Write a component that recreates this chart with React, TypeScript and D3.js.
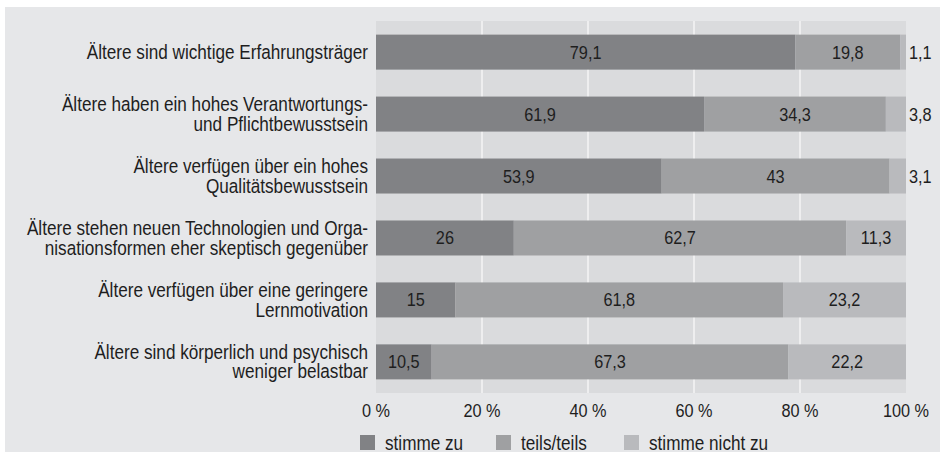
import React from 'react';
import { scaleLinear, scaleBand } from 'd3';

const categories = [
  ['Ältere sind wichtige Erfahrungsträger'],
  ['Ältere haben ein hohes Verantwortungs-', 'und Pflichtbewusstsein'],
  ['Ältere verfügen über ein hohes', 'Qualitätsbewusstsein'],
  ['Ältere stehen neuen Technologien und Orga-', 'nisationsformen eher skeptisch gegenüber'],
  ['Ältere verfügen über eine geringere', 'Lernmotivation'],
  ['Ältere sind körperlich und psychisch', 'weniger belastbar'],
];
const zustimmung = [79.1, 61.9, 53.9, 26, 15, 10.5];
const teilsTeils = [19.8, 34.3, 43, 62.7, 61.8, 67.3];
const ablehnung = [1.1, 3.8, 3.1, 11.3, 23.2, 22.2];
const seriesNames = ['stimme zu', 'teils/teils', 'stimme nicht zu'];
const colors = ['#818285', '#9fa0a2', '#b9babd'];
const ticks = [0, 20, 40, 60, 80, 100];

const W = 940;
const H = 452;
const margin = { top: 21, right: 34, bottom: 59, left: 376 };
const FONT = '"Liberation Sans", Arial, sans-serif';
const SX = 0.88; // schmale Schrift nachbilden

const fmt = (v: number) => String(v).replace('.', ',');

// Text, horizontal gestaucht
const T = ({ x, y, size, anchor = 'start', children }: any) => (
  <text
    transform={`translate(${x}, ${y}) scale(${SX}, 1)`}
    dy="0.35em"
    textAnchor={anchor}
    fontSize={size}
    fill="#1e1e1e"
  >
    {children}
  </text>
);

const App = () => {
  const innerW = W - margin.left - margin.right;
  const innerH = H - margin.top - margin.bottom;

  const x = scaleLinear().domain([0, 100]).range([0, innerW]);
  const y = scaleBand<number>()
    .domain(categories.map((_, i) => i))
    .range([0, innerH])
    .paddingInner(0.435)
    .paddingOuter(0.22);

  const series = [zustimmung, teilsTeils, ablehnung];

  return (
    <svg width={W} height={H} style={{ position: 'absolute', left: 0, top: 0, fontFamily: FONT }}>
      <rect x={0} y={0} width={W} height={H} fill="#ffffff" />
      <rect x={5} y={7} width={W - 5} height={H - 7} fill="#e6e7e9" />
      <g transform={`translate(${margin.left}, ${margin.top})`}>
        <rect x={0} y={0} width={innerW} height={innerH} fill="#dadbdd" />
        {ticks.slice(1, -1).map(t => (
          <line key={t} x1={x(t)} x2={x(t)} y1={0} y2={innerH} stroke="#f4f4f5" strokeWidth={1.5} />
        ))}
        {categories.map((lines, i) => {
          const y0 = y(i)!;
          const bh = y.bandwidth();
          const cy = y0 + bh / 2;
          let acc = 0;
          return (
            <g key={i}>
              {series.map((s, k) => {
                const v = s[i];
                const x0 = x(acc);
                acc += v;
                const x1 = x(acc);
                const inside = v >= 5;
                return (
                  <g key={k}>
                    <rect x={x0} y={y0} width={x1 - x0} height={bh} fill={colors[k]} />
                    <T
                      x={inside ? (x0 + x1) / 2 : x(100) + 3}
                      y={cy}
                      size={18.5}
                      anchor={inside ? 'middle' : 'start'}
                    >
                      {fmt(v)}
                    </T>
                  </g>
                );
              })}
              {lines.map((l, j) => (
                <T key={j} x={-8} y={cy + (j - (lines.length - 1) / 2) * 19.5} size={19.5} anchor="end">
                  {l}
                </T>
              ))}
            </g>
          );
        })}
        {ticks.map(t => (
          <T key={t} x={x(t)} y={innerH + 18} size={18.5} anchor="middle">
            {`${t} %`}
          </T>
        ))}
      </g>
      <g transform="translate(360, 435)">
        {seriesNames.map((name, k) => {
          const offs = [0, 136, 264];
          return (
            <g key={name} transform={`translate(${offs[k]}, 0)`}>
              <rect x={0} y={0} width={15} height={15} fill={colors[k]} />
              <T x={25} y={8} size={19.5}>
                {name}
              </T>
            </g>
          );
        })}
      </g>
    </svg>
  );
};

export default App;
